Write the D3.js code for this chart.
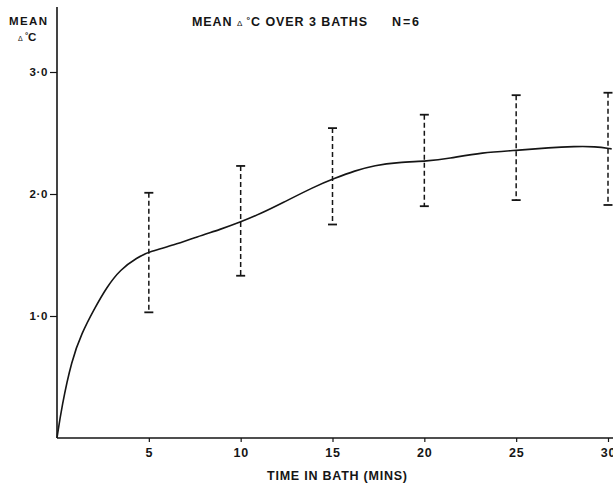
<!DOCTYPE html>
<html>
<head>
<meta charset="utf-8">
<script src="https://cdn.jsdelivr.net/npm/d3@7"></script>
<style>
  html, body { margin: 0; padding: 0; background: #fff; }
  svg { display: block; font-family: "Liberation Sans", Arial, Helvetica, sans-serif; font-weight: bold; }
</style>
</head>
<body>
<svg id="chart" width="613" height="486"></svg>
<script>
// Error-bar sample times (minutes) and their ranges (mean Δ°C)
const barMinutes = [5, 10, 15, 20, 25, 30];
const barLow     = [1.03, 1.33, 1.75, 1.90, 1.95, 1.91];
const barHigh    = [2.01, 2.23, 2.54, 2.65, 2.81, 2.83];

// Smoothed mean response curve
const curveMinutes = [0, 0.26, 0.8, 1.35, 2.0, 2.72, 3.44, 4.36, 5.08, 6.36, 7.63, 8.9, 10, 11.1,
                      12.19, 14.0, 15.15, 16.2, 17.3, 18.56, 20.2, 21.3, 23.1, 25.26, 26.76, 28.2, 29.3, 30.2];
const curveMean    = [0, 0.26, 0.64, 0.86, 1.05, 1.24, 1.38, 1.48, 1.53, 1.58, 1.65, 1.71, 1.77, 1.84,
                      1.92, 2.06, 2.13, 2.19, 2.235, 2.26, 2.27, 2.29, 2.34, 2.36, 2.38, 2.39, 2.39, 2.37];

// Axis ticks
const xTickValues = [5, 10, 15, 20, 25, 30];
const yTickValues = [1, 2, 3];

const ink = "#151515";
const svg = d3.select("#chart");
const W = 613, H = 486;

const x = d3.scaleLinear().domain([0, 30]).range([57, 608]);
const y = d3.scaleLinear().domain([0, 3]).range([438, 72]);

// Axis lines, drawn past the data range like the original frame
svg.append("line")
  .attr("x1", x(0)).attr("x2", x(0))
  .attr("y1", 7).attr("y2", y(0))
  .attr("stroke", ink).attr("stroke-width", 1.6);
svg.append("line")
  .attr("x1", x(0)).attr("x2", W)
  .attr("y1", y(0)).attr("y2", y(0))
  .attr("stroke", ink).attr("stroke-width", 1.6);

// Y axis ticks and labels (middle-dot decimal)
const yAxis = d3.axisLeft(y)
  .tickValues(yTickValues)
  .tickSize(7)
  .tickPadding(2)
  .tickFormat(d => d3.format(".1f")(d).replace(".", "\u00B7"));
const gy = svg.append("g").attr("transform", `translate(${x(0)},0)`).call(yAxis);
gy.select(".domain").remove();
gy.selectAll("line").attr("stroke", ink).attr("stroke-width", 1.2);
gy.selectAll("text").attr("fill", ink)
  .style("font-size", "11.5px").style("font-weight", "bold").style("letter-spacing", "0.6px")
  .attr("font-family", null);

// X axis ticks and labels
const xAxis = d3.axisBottom(x)
  .tickValues(xTickValues)
  .tickSize(4)
  .tickPadding(6)
  .tickFormat(d3.format("d"));
const gx = svg.append("g").attr("transform", `translate(0,${y(0)})`).call(xAxis);
gx.select(".domain").remove();
gx.selectAll("line").attr("stroke", ink).attr("stroke-width", 1.2);
gx.selectAll("text").attr("fill", ink)
  .style("font-size", "12.5px").style("font-weight", "bold").style("letter-spacing", "0.8px")
  .attr("font-family", null);

// Error bars: dashed stems with solid caps
const bars = barMinutes.map((m, i) => ({ m, lo: barLow[i], hi: barHigh[i] }));
const gb = svg.append("g").attr("stroke", ink);
gb.selectAll("line.stem").data(bars).join("line")
  .attr("class", "stem")
  .attr("x1", d => x(d.m)).attr("x2", d => x(d.m))
  .attr("y1", d => y(d.hi)).attr("y2", d => y(d.lo))
  .attr("stroke-width", 1.5)
  .attr("stroke-dasharray", "5,3");
const capHalf = 4.5;
["hi", "lo"].forEach(k => {
  gb.selectAll(`line.cap-${k}`).data(bars).join("line")
    .attr("class", `cap-${k}`)
    .attr("x1", d => x(d.m) - capHalf).attr("x2", d => x(d.m) + capHalf)
    .attr("y1", d => y(d[k])).attr("y2", d => y(d[k]))
    .attr("stroke-width", 1.8);
});

// Mean curve
const curvePts = curveMinutes.map((m, i) => [m, curveMean[i]]);
const line = d3.line().x(d => x(d[0])).y(d => y(d[1])).curve(d3.curveBasis);
svg.append("path")
  .datum(curvePts)
  .attr("d", line)
  .attr("fill", "none")
  .attr("stroke", ink)
  .attr("stroke-width", 1.6);

// Title
const title = svg.append("text")
  .attr("x", 192).attr("y", 26)
  .attr("textLength", 175).attr("lengthAdjust", "spacing")
  .attr("fill", ink).style("font-size", "12.5px");
title.append("tspan").text("MEAN ");
title.append("tspan").style("font-size", "8px").style("font-weight", "normal").text("\u0394");
title.append("tspan").attr("dy", -3).style("font-size", "9px").text(" \u00B0");
title.append("tspan").attr("dy", 3).text("C OVER  3  BATHS");
svg.append("text")
  .attr("x", 392).attr("y", 26)
  .attr("textLength", 27).attr("lengthAdjust", "spacing")
  .attr("fill", ink).style("font-size", "12.5px")
  .text("N=6");

// Y axis caption
svg.append("text")
  .attr("x", 9).attr("y", 25)
  .attr("textLength", 38).attr("lengthAdjust", "spacing")
  .attr("fill", ink).style("font-size", "11.5px")
  .text("MEAN");
const yc = svg.append("text")
  .attr("x", 18).attr("y", 41)
  .attr("fill", ink).style("font-size", "11.5px");
yc.append("tspan").style("font-size", "7px").style("font-weight", "normal").text("\u0394");
yc.append("tspan").attr("dy", -3).style("font-size", "8px").text(" \u00B0");
yc.append("tspan").attr("dy", 3).text("C");

// X axis caption
svg.append("text")
  .attr("x", 267).attr("y", 480)
  .attr("textLength", 140).attr("lengthAdjust", "spacing")
  .attr("fill", ink).style("font-size", "12.5px")
  .text("TIME IN BATH (MINS)");
</script>
</body>
</html>
